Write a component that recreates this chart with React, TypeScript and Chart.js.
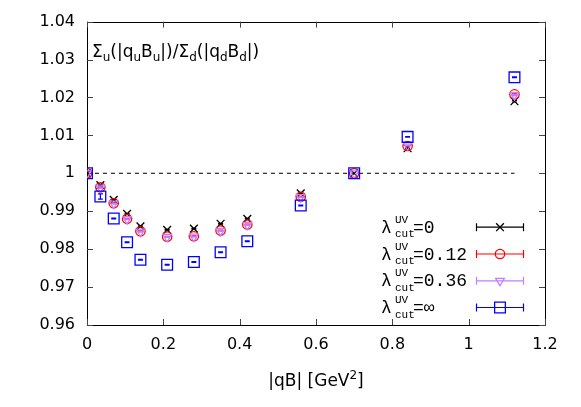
import React, { useEffect, useRef } from "react";
import { Chart, registerables } from "chart.js";

Chart.register(...registerables);

// ---- data ----
const qB = [0, 0.035, 0.07, 0.105, 0.14, 0.21, 0.28, 0.35, 0.42, 0.56, 0.7, 0.84, 1.12];

const lam0 = [1, 0.9969, 0.993, 0.9893, 0.986, 0.9851, 0.9854, 0.9867, 0.988, 0.9947, 1.0, 1.0066, 1.019];
const lam0Err = [0, 0.0002, 0.0001, 0.0001, 0.0001, 0.0001, 0.0001, 0.0001, 0.0001, 0.0001, 0, 0.0001, 0.0002];

const lam012 = [1, 0.9963, 0.9921, 0.988, 0.9847, 0.9833, 0.9834, 0.9849, 0.9865, 0.9938, 1.0, 1.0072, 1.0208];
const lam012Err = [0, 0.0002, 0.0001, 0.0001, 0.0001, 0.0001, 0.0001, 0.0001, 0.0001, 0.0001, 0, 0.0001, 0.0002];

const lam036 = [1, 0.9962, 0.992, 0.9879, 0.9846, 0.9832, 0.9833, 0.9848, 0.9864, 0.9937, 1.0, 1.0074, 1.0206];
const lam036Err = [0, 0.0002, 0.0001, 0.0001, 0.0001, 0.0001, 0.0001, 0.0001, 0.0001, 0.0001, 0, 0.0001, 0.0002];

const lamInf = [1, 0.9939, 0.9881, 0.9818, 0.9772, 0.9759, 0.9766, 0.9792, 0.9821, 0.9915, 1.0, 1.0096, 1.0253];
const lamInfErr = [0, 0.0007, 0.0001, 0.0001, 0.0001, 0.0001, 0.0001, 0.0001, 0.0001, 0.0001, 0, 0.0001, 0.0001];

const legendValues = ["=0", "=0.12", "=0.36", "=\u221E"];
const xTicks = { min: 0, max: 1.2, step: 0.2 };
const yTicks = { min: 0.96, max: 1.04, step: 0.01 };
const refLine = { from: 0, to: 1.12, y: 1 };

type Series = {
  values: number[];
  errors: number[];
  color: string;
  style: string;
  rotation: number;
  radius: number;
};

const series: Series[] = [
  { values: lam0, errors: lam0Err, color: "#000000", style: "crossRot", rotation: 0, radius: 5.5 },
  { values: lam012, errors: lam012Err, color: "#ff0000", style: "circle", rotation: 0, radius: 4.7 },
  { values: lam036, errors: lam036Err, color: "#c080ff", style: "triangle", rotation: 180, radius: 5 },
  { values: lamInf, errors: lamInfErr, color: "#0000ff", style: "rect", rotation: 0, radius: 7.6 },
];

const fmt = (v: number | string) => {
  const n = Math.round(Number(v) * 1000) / 1000;
  return String(n);
};

function drawMarker(ctx: CanvasRenderingContext2D, style: string, x: number, y: number, color: string) {
  ctx.save();
  ctx.strokeStyle = color;
  ctx.lineWidth = 1.3;
  ctx.beginPath();
  if (style === "crossRot") {
    const r = 5.5 * Math.SQRT1_2;
    ctx.moveTo(x - r, y - r);
    ctx.lineTo(x + r, y + r);
    ctx.moveTo(x + r, y - r);
    ctx.lineTo(x - r, y + r);
  } else if (style === "circle") {
    ctx.arc(x, y, 4.7, 0, Math.PI * 2);
  } else if (style === "triangle") {
    const r = 5;
    ctx.moveTo(x, y + r);
    ctx.lineTo(x - r * Math.sin(Math.PI / 3), y - r / 2);
    ctx.lineTo(x + r * Math.sin(Math.PI / 3), y - r / 2);
    ctx.closePath();
  } else {
    const h = 7.6 * Math.SQRT1_2;
    ctx.rect(x - h, y - h, 2 * h, 2 * h);
  }
  ctx.stroke();
  ctx.restore();
}

const decorPlugin = {
  id: "decor",
  beforeDatasetsDraw(chart: any) {
    const { ctx, chartArea: a, scales } = chart;
    ctx.save();
    ctx.strokeStyle = "#000";
    ctx.lineWidth = 1;
    ctx.beginPath();
    ctx.rect(Math.round(a.left) + 0.5, Math.round(a.top) + 0.5, Math.round(a.right - a.left), Math.round(a.bottom - a.top));
    ctx.stroke();
    // inward tick marks on all sides
    ctx.strokeStyle = "#444";
    ctx.beginPath();
    const tl = 6;
    for (let v = xTicks.min; v <= xTicks.max + 1e-9; v += xTicks.step) {
      const px = Math.round(scales.x.getPixelForValue(v)) + 0.5;
      ctx.moveTo(px, a.bottom);
      ctx.lineTo(px, a.bottom - tl);
      ctx.moveTo(px, a.top);
      ctx.lineTo(px, a.top + tl);
    }
    for (let v = yTicks.min; v <= yTicks.max + 1e-9; v += yTicks.step) {
      const py = Math.round(scales.y.getPixelForValue(v)) + 0.5;
      ctx.moveTo(a.left, py);
      ctx.lineTo(a.left + tl, py);
      ctx.moveTo(a.right, py);
      ctx.lineTo(a.right - tl, py);
    }
    ctx.stroke();
    ctx.restore();
  },
  afterDatasetDraw(chart: any, args: any) {
    const ds = chart.data.datasets[args.index];
    if (!ds.errors) return;
    const { ctx, scales } = chart;
    ctx.save();
    ctx.strokeStyle = ds.borderColor;
    ctx.lineWidth = 1.2;
    ctx.beginPath();
    args.meta.data.forEach((pt: any, j: number) => {
      const e = ds.errors[j];
      if (!e) return;
      const v = ds.data[j].y;
      const top = scales.y.getPixelForValue(v + e);
      const bot = scales.y.getPixelForValue(v - e);
      const cw = 2.5;
      ctx.moveTo(pt.x, top);
      ctx.lineTo(pt.x, bot);
      ctx.moveTo(pt.x - cw, top);
      ctx.lineTo(pt.x + cw, top);
      ctx.moveTo(pt.x - cw, bot);
      ctx.lineTo(pt.x + cw, bot);
    });
    ctx.stroke();
    ctx.restore();
  },
  afterDraw(chart: any) {
    const { ctx, chartArea: a } = chart;
    ctx.save();
    ctx.fillStyle = "#000";
    ctx.textBaseline = "alphabetic";
    ctx.textAlign = "left";

    // y label inside plot
    const parts: [string, boolean][] = [
      ["\u03A3", false], ["u", true], ["(|q", false], ["u", true], ["B", false], ["u", true],
      ["|)/\u03A3", false], ["d", true], ["(|q", false], ["d", true], ["B", false], ["d", true], ["|)", false],
    ];
    let x = a.left + 5;
    const base = 56.7;
    for (const [t, sub] of parts) {
      ctx.font = sub ? '12px "DejaVu Sans"' : '17px "DejaVu Sans"';
      ctx.fillText(t, x, sub ? base + 4.3 : base);
      x += ctx.measureText(t).width;
    }

    // x axis title
    const t1 = "|qB| [GeV";
    ctx.font = '17px "DejaVu Sans"';
    const w1 = ctx.measureText(t1).width;
    ctx.font = '12px "DejaVu Sans"';
    const w2 = ctx.measureText("2").width;
    ctx.font = '17px "DejaVu Sans"';
    const w3 = ctx.measureText("]").width;
    const total = w1 + w2 + w3;
    let tx = (a.left + a.right) / 2 - total / 2;
    const tb = 386;
    ctx.fillText(t1, tx, tb);
    tx += w1;
    ctx.font = '12px "DejaVu Sans"';
    ctx.fillText("2", tx, tb - 7);
    tx += w2;
    ctx.font = '17px "DejaVu Sans"';
    ctx.fillText("]", tx, tb);

    // legend
    const rows = [226.7, 253.5, 280.3, 307];
    series.forEach((s, i) => {
      const L = rows[i];
      ctx.fillStyle = "#000";
      ctx.font = '18px "Liberation Mono"';
      ctx.fillText("\u03BB", 381, L + 6);
      ctx.font = '11px "Liberation Mono"';
      ctx.fillText("UV", 395, L - 4);
      ctx.fillText("cut", 395, L + 10.5);
      ctx.font = '18px "Liberation Mono"';
      ctx.fillText(legendValues[i], 413, L + 6);
      // sample line with caps
      ctx.strokeStyle = s.color;
      ctx.lineWidth = 1.2;
      ctx.beginPath();
      ctx.moveTo(476, L + 0.5);
      ctx.lineTo(524, L + 0.5);
      ctx.moveTo(476.5, L - 3.5);
      ctx.lineTo(476.5, L + 4.5);
      ctx.moveTo(523.5, L - 3.5);
      ctx.lineTo(523.5, L + 4.5);
      ctx.stroke();
      drawMarker(ctx, s.style, 500, L + 0.5, s.color);
    });
    ctx.restore();
  },
};

export default function App() {
  const ref = useRef<HTMLCanvasElement | null>(null);
  useEffect(() => {
    if (!ref.current) return;
    const datasets: any[] = series.map((s, i) => ({
      type: "scatter",
      data: qB.map((x, j) => ({ x, y: s.values[j] })),
      errors: s.errors,
      pointStyle: s.style,
      pointRotation: s.rotation,
      pointRadius: s.radius,
      pointHoverRadius: s.radius,
      borderColor: s.color,
      pointBorderColor: s.color,
      backgroundColor: "rgba(0,0,0,0)",
      pointBackgroundColor: "rgba(0,0,0,0)",
      pointBorderWidth: 1.3,
      showLine: false,
      order: 4 - i,
    }));
    datasets.push({
      type: "line",
      data: [
        { x: refLine.from, y: refLine.y },
        { x: refLine.to, y: refLine.y },
      ],
      borderColor: "#000",
      borderDash: [4, 4],
      borderWidth: 1,
      pointRadius: 0,
      fill: false,
      order: 10,
    });
    const tickFont = { family: "DejaVu Sans", size: 16 };
    const chart = new Chart(ref.current, {
      type: "scatter",
      data: { datasets },
      options: {
        animation: false,
        responsive: false,
        maintainAspectRatio: false,
        layout: { padding: { left: 0, right: 36, top: 20, bottom: 0 } },
        plugins: { legend: { display: false }, tooltip: { enabled: false } },
        scales: {
          x: {
            type: "linear",
            min: xTicks.min,
            max: xTicks.max,
            ticks: {
              stepSize: xTicks.step,
              callback: fmt,
              font: tickFont,
              color: "#000",
              padding: 10,
              maxRotation: 0,
              autoSkip: false,
            },
            grid: { display: false, drawTicks: false },
            border: { display: false },
            afterFit: (s: any) => {
              s.height = 82;
            },
          },
          y: {
            type: "linear",
            min: yTicks.min,
            max: yTicks.max,
            ticks: {
              stepSize: yTicks.step,
              callback: fmt,
              font: tickFont,
              color: "#000",
              padding: 12,
              autoSkip: false,
            },
            grid: { display: false, drawTicks: false },
            border: { display: false },
            afterFit: (s: any) => {
              s.width = 87;
            },
          },
        },
      } as any,
      plugins: [decorPlugin],
    });
    return () => chart.destroy();
  }, []);
  return (
    <div style={{ position: "absolute", left: 0, top: 0, width: 581, height: 407, background: "#fff" }}>
      <canvas ref={ref} width={581} height={407} style={{ display: "block" }} />
    </div>
  );
}
